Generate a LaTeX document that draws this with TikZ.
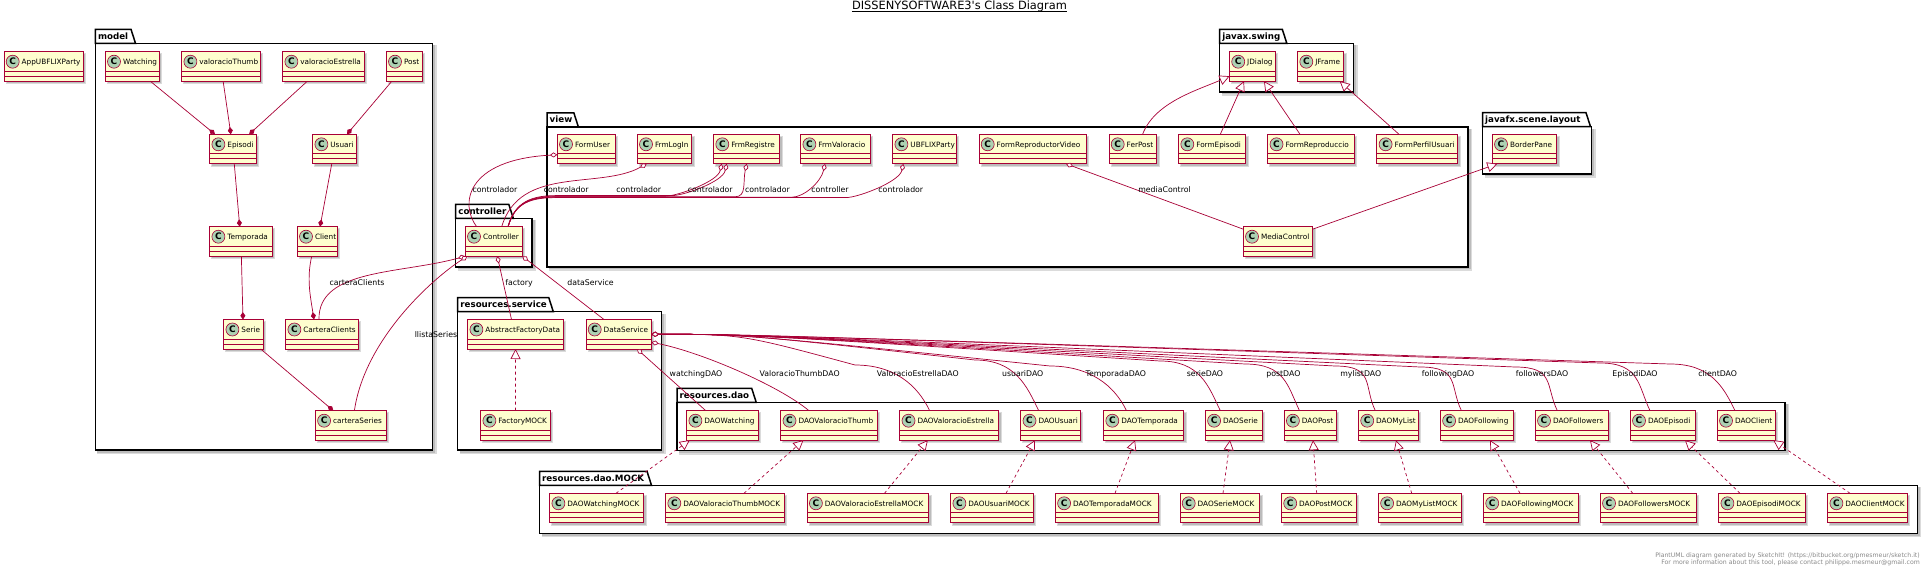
\documentclass[tikz,border=0pt]{standalone}
\usepackage{fontspec}
\setmainfont{DejaVu Sans}
\usepackage{tikz}
\usetikzlibrary{arrows.meta}
\definecolor{umlred}{HTML}{A80036}
\definecolor{umlfill}{HTML}{FEFECE}
\definecolor{spotgreen}{HTML}{ADD1B2}
\definecolor{footgray}{HTML}{888888}
\tikzset{
  classbox/.style={draw=umlred, fill=umlfill, line width=.9pt, inner sep=0pt, outer sep=0pt, minimum height=29.5pt},
  classrule/.style={draw=umlred, line width=.9pt},
  classspot/.style={circle, draw=umlred, fill=spotgreen, line width=.6pt, minimum size=13pt, inner sep=0pt, font=\fontsize{9}{9}\selectfont\bfseries},
  classname/.style={anchor=base west, inner sep=0pt, font=\fontsize{7.3}{8}\selectfont},
  pkgline/.style={draw=black, line width=1.5pt, fill=white},
  pkgname/.style={anchor=base west, inner sep=0pt, font=\fontsize{8.7}{9}\selectfont\bfseries},
  rolelabel/.style={anchor=base, inner sep=0pt, font=\fontsize{7.8}{8}\selectfont},
  dropshade/.style={fill=black, opacity=.14},
  assoc/.style={draw=umlred, line width=.7pt},
  compos/.style={assoc, -{Diamond[length=7.5pt, width=5pt, fill=umlred]}},
  aggreg/.style={assoc, {Diamond[length=7.5pt, width=5pt, fill=white]}-},
  extends/.style={assoc, -{Triangle[length=10pt, width=10pt, fill=white]}},
  realizes/.style={extends, dash pattern=on 3pt off 3pt},
}
% name, x, y, width, text
\newcommand{\umlclass}[5]{%
  \fill[dropshade] (#2+1.5,#3+1.5) rectangle (#2+#4+3,#3+32.5);
  \fill[dropshade] (#2+2.5,#3+2.5) rectangle (#2+#4+2,#3+31.5);
  \node[classbox, minimum width=#4pt, anchor=north west] (#1) at (#2,#3) {};
  \draw[classrule] ([yshift=-19.5pt]#1.north west) -- ([yshift=-19.5pt]#1.north east)
    ([yshift=-24.5pt]#1.north west) -- ([yshift=-24.5pt]#1.north east);
  \node[classspot] (#1-c) at ([xshift=8.7pt,yshift=-10pt]#1.north west) {C};
  \node[classname] (#1-n) at ([xshift=17.5pt,yshift=-13pt]#1.north west) {#5};
}
% name, left, tab top, right, bottom, tab right, text
\newcommand{\umlpackage}[7]{%
  \fill[dropshade] (#2+2,#3+16) rectangle (#4+4,#5+4);
  \fill[dropshade] (#2+2,#3+16) rectangle (#4+2.5,#5+2.5);
  \filldraw[pkgline] (#2,#3+14) rectangle (#4,#5);
  \filldraw[pkgline] (#2,#3+14) -- (#2,#3) -- (#6,#3) -- (#6+4.5,#3+14) -- cycle;
  \node[pkgname] (#1) at (#2+2.5,#3+10) {#7};
}
% view class -> Controller
\newcommand{\viewlink}[4]{%
  \draw[aggreg] ([xshift=#2pt]#1.south west) .. controls +(-4,18) and +(12,0) .. (#3,#4)
    -- (bundle |- 0,#4) .. controls +(-30,0) and +(6,-20) .. ([xshift=42.7pt]Controller.north west);
}
% DataService -> DAO
\newcommand{\servicelink}[4]{%
  \draw[aggreg] (DataService.east) .. controls +(90,0) .. (#3,#4)
    .. controls +(40,0) and +(-12,-25) .. ([xshift=#2pt]#1.north west);
}

\begin{document}
\begin{tikzpicture}[x=1pt, y=-1pt]
    \useasboundingbox (0,0) rectangle (1927,569);

    \node[font=\fontsize{11.4}{12}\selectfont, anchor=base, inner sep=0pt] (title) at (959.5,10) {DISSENYSOFTWARE3\textquotesingle s Class Diagram};
    \draw[line width=.5pt] ([yshift=-1.4pt]title.base west) -- ([yshift=-1.4pt]title.base east);

    \umlpackage{pkg-model}{95.3}{29.3}{432.5}{450}{131}{model}
    \umlpackage{pkg-swing}{1219.6}{29.3}{1353.5}{92}{1282.3}{javax.swing}
    \umlpackage{pkg-view}{547}{113}{1468}{267}{573.9}{view}
    \umlpackage{pkg-layout}{1482.5}{112.7}{1591.7}{174}{1586}{javafx.scene.layout}
    \umlpackage{pkg-controller}{455.7}{204.3}{532}{267}{508.8}{controller}
    \umlpackage{pkg-service}{457.7}{297.7}{661.7}{450}{548.8}{resources.service}
    \umlpackage{pkg-dao}{677}{388.3}{1785}{450.7}{751.7}{resources.dao}
    \umlpackage{pkg-mock}{539.5}{471.3}{1917.3}{533.3}{647}{resources.dao.MOCK}

    \umlclass{AppUBFLIXParty}{4}{51.7}{79.3}{AppUBFLIXParty}
    \umlclass{Watching}{105.3}{51.7}{54}{Watching}
    \umlclass{valoracioThumb}{181.7}{51.7}{78.6}{valoracioThumb}
    \umlclass{valoracioEstrella}{282.7}{51.7}{81.6}{valoracioEstrella}
    \umlclass{Post}{386.3}{51.7}{36}{Post}
    \umlclass{JDialog}{1229.5}{51.7}{45.9}{JDialog}
    \umlclass{JFrame}{1297.6}{51.7}{46}{JFrame}

    \umlclass{Episodi}{209.7}{134.3}{46.6}{Episodi}
    \umlclass{Usuari}{312.7}{134.3}{43.6}{Usuari}
    \umlclass{FormUser}{557.3}{134.3}{58}{FormUser}
    \umlclass{FrmLogIn}{637.3}{134.3}{54.4}{FrmLogIn}
    \umlclass{FrmRegistre}{713.6}{134.3}{65.9}{FrmRegistre}
    \umlclass{FrmValoracio}{800.7}{134.3}{69.6}{FrmValoracio}
    \umlclass{UBFLIXParty}{892.7}{134.3}{63.4}{UBFLIXParty}
    \umlclass{FormReproductorVideo}{979}{134.3}{107.4}{FormReproductorVideo}
    \umlclass{FerPost}{1109}{134.3}{47.8}{FerPost}
    \umlclass{FormEpisodi}{1178.6}{134.3}{67}{FormEpisodi}
    \umlclass{FormReproduccio}{1267.8}{134.3}{86.5}{FormReproduccio}
    \umlclass{FormPerfilUsuari}{1376.9}{134.3}{80.7}{FormPerfilUsuari}
    \umlclass{BorderPane}{1492.3}{134.3}{64.4}{BorderPane}

    \umlclass{Temporada}{209.7}{226.7}{62.6}{Temporada}
    \umlclass{Client}{297.3}{226.7}{40}{Client}
    \umlclass{Controller}{465.3}{226.7}{57}{Controller}
    \umlclass{MediaControl}{1243.3}{226.7}{69.3}{MediaControl}

    \umlclass{Serie}{223.7}{319.5}{39.3}{Serie}
    \umlclass{CarteraClients}{285.7}{319.5}{72.6}{CarteraClients}
    \umlclass{AbstractFactoryData}{467.7}{319.5}{95.7}{AbstractFactoryData}
    \umlclass{DataService}{586}{319.5}{65.4}{DataService}

    \umlclass{carteraSeries}{315.4}{410.7}{70.6}{carteraSeries}
    \umlclass{FactoryMOCK}{480.7}{410.7}{69.6}{FactoryMOCK}
    \umlclass{DAOWatching}{686.7}{410.7}{71.5}{DAOWatching}
    \umlclass{DAOValoracioThumb}{780.8}{410.7}{96.4}{DAOValoracioThumb}
    \umlclass{DAOValoracioEstrella}{899.8}{410.7}{98.8}{DAOValoracioEstrella}
    \umlclass{DAOUsuari}{1020.8}{410.7}{59.4}{DAOUsuari}
    \umlclass{DAOTemporada}{1103.6}{410.7}{80}{DAOTemporada}
    \umlclass{DAOSerie}{1205.4}{410.7}{56.6}{DAOSerie}
    \umlclass{DAOPost}{1284.2}{410.7}{52.1}{DAOPost}
    \umlclass{DAOMyList}{1358.5}{410.7}{59.7}{DAOMyList}
    \umlclass{DAOFollowing}{1440.4}{410.7}{72.9}{DAOFollowing}
    \umlclass{DAOFollowers}{1535.3}{410.7}{73}{DAOFollowers}
    \umlclass{DAOEpisodi}{1630.3}{410.7}{65}{DAOEpisodi}
    \umlclass{DAOClient}{1717.3}{410.7}{58}{DAOClient}

    \umlclass{DAOWatchingMOCK}{549.7}{493.3}{93.9}{DAOWatchingMOCK}
    \umlclass{DAOValoracioThumbMOCK}{665.6}{493.3}{118.6}{DAOValoracioThumbMOCK}
    \umlclass{DAOValoracioEstrellaMOCK}{807.2}{493.3}{121.3}{DAOValoracioEstrellaMOCK}
    \umlclass{DAOUsuariMOCK}{950.7}{493.3}{82.7}{DAOUsuariMOCK}
    \umlclass{DAOTemporadaMOCK}{1055.4}{493.3}{102.9}{DAOTemporadaMOCK}
    \umlclass{DAOSerieMOCK}{1180}{493.3}{79.7}{DAOSerieMOCK}
    \umlclass{DAOPostMOCK}{1281.5}{493.3}{74.5}{DAOPostMOCK}
    \umlclass{DAOMyListMOCK}{1378.4}{493.3}{83}{DAOMyListMOCK}
    \umlclass{DAOFollowingMOCK}{1483.5}{493.3}{94.8}{DAOFollowingMOCK}
    \umlclass{DAOFollowersMOCK}{1600.3}{493.3}{96}{DAOFollowersMOCK}
    \umlclass{DAOEpisodiMOCK}{1718.7}{493.3}{86.6}{DAOEpisodiMOCK}
    \umlclass{DAOClientMOCK}{1827.7}{493.3}{79.6}{DAOClientMOCK}

    % model
    \draw[compos] (Watching) -- (Episodi);
    \draw[compos] (valoracioThumb) -- (Episodi);
    \draw[compos] (valoracioEstrella) -- (Episodi);
    \draw[compos] (Post) -- (Usuari);
    \draw[compos] (Episodi) -- (Temporada);
    \draw[compos] (Usuari) -- (Client);
    \draw[compos] (Temporada) -- (Serie);
    \draw[compos] ([xshift=14.4pt]Client.south west) .. controls +(-5,22) and +(-4,-25) .. ([xshift=28.3pt]CarteraClients.north west);
    \draw[compos] (Serie) -- (carteraSeries);

    % controller
    \draw[aggreg] (Controller.south west) .. controls +(-65,18) and +(-1,-51) .. ([xshift=33.3pt]CarteraClients.north west);
    \draw[aggreg] ([xshift=2pt]Controller.south west) .. controls +(-37,24) and +(10,-70) .. ([xshift=39pt]carteraSeries.north west);
    \draw[aggreg] ([xshift=32pt]Controller.south west) -- ([xshift=43.8pt]AbstractFactoryData.north west);
    \draw[aggreg] (Controller.south east) -- ([xshift=18pt]DataService.north west);

    % view
    \coordinate (bundle) at (555,196.5);
    \draw[aggreg] ([yshift=-5.7pt]FormUser.west) .. controls +(-92,5) and +(-17,-22) .. ([xshift=11.4pt]Controller.north west);
    \draw[aggreg] ([xshift=9.4pt]FrmLogIn.south west) .. controls +(-47,26) and +(18.3,-61.7) .. ([xshift=36.4pt]Controller.north west);
    \viewlink{FrmRegistre}{8.1}{665}{196.2}
    \viewlink{FrmRegistre}{13.1}{672}{195.6}
    \viewlink{FrmRegistre}{33.1}{735}{196.8}
    \viewlink{FrmValoracio}{24.3}{792}{197.2}
    \viewlink{UBFLIXParty}{10.6}{846}{197.6}
    \draw[aggreg] ([xshift=87pt]FormReproductorVideo.south west) -- ([yshift=-2.5pt]MediaControl.north west);
    \draw[extends] ([xshift=33.6pt]FerPost.north west) .. controls +(12,-32) and +(-32,14) .. ([yshift=5pt]JDialog.south west);
    \draw[extends] ([xshift=41.7pt]FormEpisodi.north west) -- ([xshift=14.5pt]JDialog.south west);
    \draw[extends] ([xshift=32.2pt]FormReproduccio.north west) -- ([xshift=34.5pt]JDialog.south west);
    \draw[extends] ([xshift=22.1pt]FormPerfilUsuari.north west) -- ([xshift=42.1pt]JFrame.south west);
    \draw[extends] ([yshift=-2.5pt]MediaControl.north east) -- ([xshift=5pt]BorderPane.south west);

    % resources
    \draw[realizes] (FactoryMOCK) -- (AbstractFactoryData);
    \draw[aggreg] ([xshift=51pt]DataService.south west) -- ([xshift=19.1pt]DAOWatching.north west);
    \draw[aggreg] ([yshift=-8pt]DataService.east) .. controls +(50,10) and +(-30,-25) .. ([xshift=28.2pt]DAOValoracioThumb.north west);
    \servicelink{DAOValoracioEstrella}{29.9}{855}{365}
    \servicelink{DAOUsuari}{17.9}{975}{360}
    \servicelink{DAOTemporada}{22.9}{1050}{366}
    \servicelink{DAOSerie}{14.9}{1160}{361}
    \servicelink{DAOPost}{15.3}{1245}{364}
    \servicelink{DAOMyList}{16.8}{1335}{366}
    \servicelink{DAOFollowing}{21}{1420}{367}
    \servicelink{DAOFollowers}{22}{1515}{367}
    \servicelink{DAOEpisodi}{19.7}{1600}{363}
    \servicelink{DAOClient}{17.7}{1670}{364}

    \draw[realizes] ([xshift=66.3pt]DAOWatchingMOCK.north west) -- ([xshift=3pt]DAOWatching.south west);
    \draw[realizes] ([xshift=78.4pt]DAOValoracioThumbMOCK.north west) -- ([xshift=22.6pt]DAOValoracioThumb.south west);
    \draw[realizes] ([xshift=77.3pt]DAOValoracioEstrellaMOCK.north west) -- ([xshift=28pt]DAOValoracioEstrella.south west);
    \draw[realizes] ([xshift=55.3pt]DAOUsuariMOCK.north west) -- ([xshift=14.2pt]DAOUsuari.south west);
    \draw[realizes] ([xshift=59.6pt]DAOTemporadaMOCK.north west) -- ([xshift=31.4pt]DAOTemporada.south west);
    \draw[realizes] ([xshift=43pt]DAOSerieMOCK.north west) -- ([xshift=24.6pt]DAOSerie.south west);
    \draw[realizes] ([xshift=35.2pt]DAOPostMOCK.north west) -- ([xshift=28.8pt]DAOPost.south west);
    \draw[realizes] ([xshift=33.3pt]DAOMyListMOCK.north west) -- ([xshift=37.5pt]DAOMyList.south west);
    \draw[realizes] ([xshift=36.5pt]DAOFollowingMOCK.north west) -- ([xshift=49.6pt]DAOFollowing.south west);
    \draw[realizes] ([xshift=32.4pt]DAOFollowersMOCK.north west) -- ([xshift=54.7pt]DAOFollowers.south west);
    \draw[realizes] ([xshift=21.3pt]DAOEpisodiMOCK.north west) -- ([xshift=54.7pt]DAOEpisodi.south west);
    \draw[realizes] ([xshift=22.3pt]DAOClientMOCK.north west) -- ([xshift=56pt]DAOClient.south west);

    % labels
    \node[rolelabel] (lbl-user) at (495,192.5) {controlador};
    \node[rolelabel] (lbl-login) at (566.3,192.5) {controlador};
    \node[rolelabel] (lbl-reg1) at (638.7,192.5) {controlador};
    \node[rolelabel] (lbl-reg2) at (710.3,192.5) {controlador};
    \node[rolelabel] (lbl-reg3) at (767.5,192.5) {controlador};
    \node[rolelabel] (lbl-val) at (830,192.5) {controller};
    \node[rolelabel] (lbl-party) at (900.8,192.5) {controlador};
    \node[rolelabel] (lbl-media) at (1164.5,192.8) {mediaControl};
    \node[rolelabel] (lbl-clients) at (357,285.7) {carteraClients};
    \node[rolelabel] (lbl-factory) at (519,285.5) {factory};
    \node[rolelabel] (lbl-service) at (590.5,285.5) {dataService};
    \node[rolelabel] (lbl-series) at (436,337.5) {llistaSeries};
    \node[rolelabel] (lbl-watching) at (696,376.3) {watchingDAO};
    \node[rolelabel] (lbl-thumb) at (799.6,376.3) {ValoracioThumbDAO};
    \node[rolelabel] (lbl-estrella) at (917.8,376.3) {ValoracioEstrellaDAO};
    \node[rolelabel] (lbl-usuari) at (1022.7,376.3) {usuariDAO};
    \node[rolelabel] (lbl-temporada) at (1115.8,376.3) {TemporadaDAO};
    \node[rolelabel] (lbl-serie) at (1205,376.3) {serieDAO};
    \node[rolelabel] (lbl-post) at (1283.4,376.3) {postDAO};
    \node[rolelabel] (lbl-mylist) at (1360.8,376.3) {mylistDAO};
    \node[rolelabel] (lbl-following) at (1448,376.3) {followingDAO};
    \node[rolelabel] (lbl-followers) at (1542,376.3) {followersDAO};
    \node[rolelabel] (lbl-episodi) at (1635,376.3) {EpisodiDAO};
    \node[rolelabel] (lbl-client) at (1717.7,376.3) {clientDAO};

    \node[font=\fontsize{6.2}{7}\selectfont, text=footgray, anchor=base east, inner sep=0pt] (foot1) at (1920,557.3) {PlantUML diagram generated by SketchIt! (https://bitbucket.org/pmesmeur/sketch.it)};
    \node[font=\fontsize{6.2}{7}\selectfont, text=footgray, anchor=base east, inner sep=0pt] (foot2) at (1920,564.6) {For more information about this tool, please contact philippe.mesmeur@gmail.com};
\end{tikzpicture}
\end{document}
